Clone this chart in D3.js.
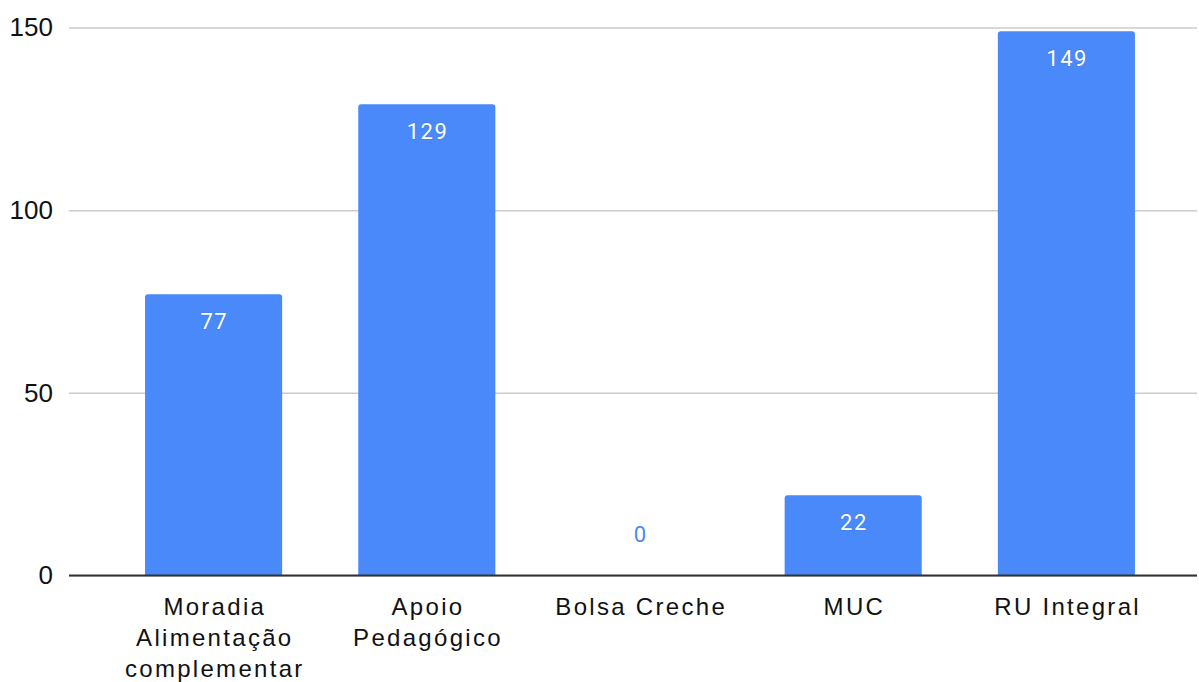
<!DOCTYPE html>
<html>
<head>
<meta charset="utf-8">
<script src="https://cdn.jsdelivr.net/npm/d3@7"></script>
<style>
  html, body { margin: 0; padding: 0; background: #fff; }
  svg { display: block; }
</style>
</head>
<body>
<svg id="chart" width="1199" height="682"></svg>
<script>
// Number of beneficiaries per assistance programme
const categories = [
  ["Moradia", "Alimentação", "complementar"],
  ["Apoio", "Pedagógico"],
  ["Bolsa Creche"],
  ["MUC"],
  ["RU Integral"]
];
const values = [77, 129, 0, 22, 149];
const yTicks = [0, 50, 100, 150];

const svg = d3.select("#chart");
const gridLeft = 69, gridRight = 1197;
const plotTop = 27.5, plotBase = 575.5;

const keys = categories.map(c => c.join(" "));
const x = d3.scaleBand().domain(keys).range([107, 1173]).paddingInner(0.357).paddingOuter(0.1785);
const y = d3.scaleLinear().domain([0, 150]).range([plotBase, plotTop]);

// horizontal gridlines and value ticks
const yAxis = d3.axisLeft(y).tickValues(yTicks).tickSize(-(gridRight - gridLeft)).tickPadding(16);
const gy = svg.append("g").attr("transform", `translate(${gridLeft},0)`).call(yAxis);
gy.select(".domain").remove();
gy.selectAll(".tick line").attr("stroke", "#cccccc").attr("stroke-width", 1.5);
gy.selectAll(".tick text")
  .attr("font-family", "Liberation Sans, Arial, sans-serif")
  .attr("font-size", 26).attr("fill", "#111");

// bars with slightly rounded tops
const bw = x.bandwidth(), r = 3;
svg.append("g").selectAll("path").data(values).join("path")
  .attr("fill", "#4a89fa")
  .attr("d", (v, i) => {
    if (v <= 0) return "";
    const x0 = x(keys[i]), x1 = x0 + bw, y0 = y(v), y1 = y(0);
    return `M${x0},${y1}V${y0 + r}Q${x0},${y0} ${x0 + r},${y0}H${x1 - r}Q${x1},${y0} ${x1},${y0 + r}V${y1}Z`;
  });

// baseline
svg.append("line")
  .attr("x1", gridLeft).attr("x2", gridRight)
  .attr("y1", y(0)).attr("y2", y(0))
  .attr("stroke", "#333").attr("stroke-width", 2);

// value labels: inside the bar, or above the baseline when the bar is empty
svg.append("g").selectAll("text").data(values).join("text")
  .attr("x", (v, i) => x(keys[i]) + bw / 2 + 0.75)
  .attr("y", v => v > 0 ? y(v) + 35 : y(0) - 34)
  .attr("text-anchor", "middle")
  .attr("font-family", "Roboto, sans-serif")
  .attr("font-size", 22)
  .attr("letter-spacing", 1.5)
  .attr("fill", v => v > 0 ? "#ffffff" : "#4a89fa")
  .attr("stroke", v => v > 0 ? "#3f7fee" : "none")
  .attr("stroke-width", 1.5)
  .attr("stroke-opacity", 0.6)
  .attr("paint-order", "stroke")
  .text(v => v);

// category labels, one line per word group
const cat = svg.append("g").selectAll("text").data(categories).join("text")
  .attr("x", (c, i) => x(keys[i]) + bw / 2 + 1.2)
  .attr("y", 615)
  .attr("text-anchor", "middle")
  .attr("font-family", "Liberation Sans, Arial, sans-serif")
  .attr("font-size", 24)
  .attr("letter-spacing", 2.3)
  .attr("fill", "#111");
cat.selectAll("tspan").data(c => c).join("tspan")
  .attr("x", function () { return d3.select(this.parentNode).attr("x"); })
  .attr("dy", (d, j) => j === 0 ? 0 : 31)
  .text(d => d);
</script>
</body>
</html>
